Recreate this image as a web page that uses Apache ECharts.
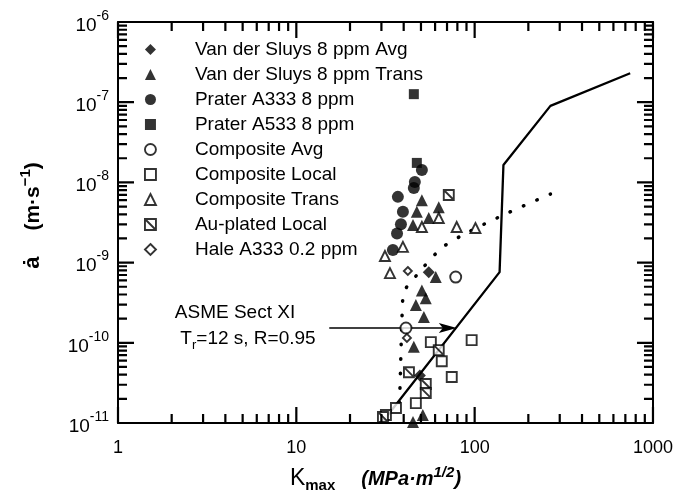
<!DOCTYPE html>
<html>
<head>
<meta charset="utf-8">
<script src="https://cdn.jsdelivr.net/npm/echarts@6/dist/echarts.min.js"></script>
<style>
  html, body { margin: 0; padding: 0; background: #fff; overflow: hidden; }
  #chart { width: 676px; height: 498px; }
</style>
</head>
<body>
<div id="chart"></div>
<script>
// Crack growth rate (m/s) versus maximum stress intensity K_max (MPa·m^1/2)

const xRange = [1, 1000];
const yRange = [1e-11, 1e-6];
const xTickLabels = ['1', '10', '100', '1000'];
const yTickExponents = [-11, -10, -9, -8, -7, -6];

// [K_max, da/dt]
const vanDerSluysAvg = [[55.3, 7.6e-10], [49.3, 3.9e-11]];
const vanDerSluysTrans = [
  [50.6, 6.0e-9], [47.4, 4.3e-9], [45.1, 2.94e-9], [55.3, 3.6e-9], [62.9, 4.9e-9],
  [60.5, 6.6e-10], [50.6, 4.5e-10], [53.2, 3.6e-10], [46.8, 2.96e-10], [51.9, 2.1e-10],
  [45.6, 8.9e-11], [51.2, 1.26e-11], [45.1, 1.03e-11]
];
const praterA333 = [
  [50.6, 1.43e-8], [46.2, 1.01e-8], [45.6, 8.5e-9], [37.1, 6.6e-9], [39.6, 4.3e-9],
  [38.6, 3.0e-9], [36.7, 2.3e-9], [34.8, 1.44e-9]
];
const praterA533 = [[45.6, 1.26e-7], [47.4, 1.75e-8]];
const compositeAvg = [[78.3, 6.6e-10], [41.2, 1.53e-10]];
const compositeLocal = [
  [96.2, 1.08e-10], [56.8, 1.02e-10], [65.4, 5.9e-11], [74.4, 3.75e-11],
  [46.8, 1.77e-11], [36.2, 1.54e-11], [31.8, 1.26e-11]
];
const compositeTrans = [
  [50.6, 2.78e-9], [62.9, 3.6e-9], [79.3, 2.78e-9], [101, 2.7e-9],
  [31.4, 1.21e-9], [39.6, 1.57e-9], [33.5, 7.4e-10]
];
const auPlatedLocal = [
  [71.6, 6.97e-9], [62.9, 8.1e-11], [42.8, 4.3e-11], [53.2, 3.06e-11], [53.2, 2.37e-11], [30.6, 1.19e-11]
];
const haleA333 = [[42.2, 7.85e-10], [41.7, 1.15e-10]];

// ASME Section XI reference curve and the dotted trend curve
const asmeCurve = [[31.0, 1.09e-11], [138, 7.6e-10], [145, 1.65e-8], [266, 9.0e-8], [745, 2.3e-7]];
const trendCurve = [
  [266, 7.16e-9], [153, 4.15e-9], [90.2, 2.34e-9], [65.4, 1.52e-9], [47.4, 7.0e-10],
  [40.1, 4.2e-10], [39.1, 1.9e-10], [38.1, 2.6e-11], [37.6, 1.45e-11]
];
// pointer from the ASME caption to the curve
const asmePointer = [[15.3, 1.53e-10], [70.7, 1.53e-10]];

// tick positions: decades (long) and 2..9 in every decade (short)
const xMajorTicks = [1, 10, 100, 1000];
const yMajorTicks = [1e-11, 1e-10, 1e-9, 1e-8, 1e-7, 1e-6];
const xMinorTicks = [];
for (let d = 1; d < 1000; d *= 10) for (let m = 2; m <= 9; m++) xMinorTicks.push(m * d);
const yMinorTicks = [];
for (let e = -11; e < -6; e++) for (let m = 2; m <= 9; m++) yMinorTicks.push(m * Math.pow(10, e));
const MAJOR_LEN = 16, MINOR_LEN = 9, TICK_W = 2.2;

const FONT = '"Liberation Sans", Arial, "DejaVu Sans", sans-serif';
const BLACK = '#000';
const slashedSquare = 'path://M0,0L10,0L10,10L0,10Z M0,0L10,10';

const legendNames = [
  'Van der Sluys 8 ppm Avg', 'Van der Sluys 8 ppm Trans', 'Prater A333 8 ppm', 'Prater A533 8 ppm',
  'Composite Avg', 'Composite Local', 'Composite Trans', 'Au-plated Local', 'Hale A333 0.2 ppm'
];
const seriesData = [vanDerSluysAvg, vanDerSluysTrans, praterA333, praterA533,
  compositeAvg, compositeLocal, compositeTrans, auPlatedLocal, haleA333];
const symbols = ['diamond', 'triangle', 'circle', 'rect', 'circle', 'rect', 'triangle', slashedSquare, 'diamond'];
const filled = [true, true, true, true, false, false, false, false, false];
const sizes = [12, 12, 12, 10, 11, 10, 10, 10, 8];

function markerStyle(i) {
  return filled[i]
    ? { color: BLACK, borderWidth: 0 }
    : { color: '#fff', borderColor: BLACK, borderWidth: 1.9 };
}

const scatterSeries = legendNames.map((name, i) => ({
  name, type: 'scatter', xAxisIndex: 0, yAxisIndex: 0,
  symbol: symbols[i], symbolSize: sizes[i],
  itemStyle: markerStyle(i), data: seriesData[i], z: 5, silent: true
}));

function axisCommon(pos) {
  return {
    type: 'log', logBase: 10, position: pos,
    axisLine: { show: true, onZero: false, lineStyle: { color: BLACK, width: 2 } },
    axisTick: { show: false },
    splitLine: { show: false }
  };
}

const chart = echarts.init(document.getElementById('chart'), null, { renderer: 'canvas' });

chart.setOption({
  backgroundColor: '#fff',
  animation: false,
  textStyle: { fontFamily: FONT, color: BLACK },
  grid: { left: 118, right: 19, top: 22, bottom: 75, containLabel: false },
  xAxis: [
    Object.assign(axisCommon('bottom'), {
      min: xRange[0], max: xRange[1],
      axisLabel: {
        margin: 16, fontSize: 18, color: BLACK, fontFamily: FONT,
        formatter: v => xTickLabels[Math.round(Math.log10(v))]
      },
      name: '{k|K}{sub|max}{gap|}{u|(MPa·m}{sup|1/2}{u|)}',
      nameLocation: 'middle', nameGap: 42,
      nameTextStyle: {
        padding: [0, 20, 0, 0],
        rich: {
          k: { fontSize: 23, fontFamily: FONT, color: BLACK, lineHeight: 28, verticalAlign: 'middle' },
          sub: { fontSize: 15, fontFamily: FONT, color: BLACK, fontWeight: 'bold', lineHeight: 28, verticalAlign: 'bottom' },
          gap: { width: 26 },
          u: { fontSize: 20, fontFamily: FONT, color: BLACK, fontStyle: 'italic', fontWeight: 'bold', lineHeight: 28, verticalAlign: 'middle' },
          sup: { fontSize: 15, fontFamily: FONT, color: BLACK, fontStyle: 'italic', fontWeight: 'bold', lineHeight: 28, verticalAlign: 'top' }
        }
      }
    }),
    Object.assign(axisCommon('top'), {
      min: xRange[0], max: xRange[1], axisLabel: { show: false }
    })
  ],
  yAxis: [
    Object.assign(axisCommon('left'), {
      min: yRange[0], max: yRange[1],
      axisLabel: {
        margin: 9, color: BLACK,
        formatter: v => {
          const e = Math.round(Math.log10(v));
          return yTickExponents.indexOf(e) >= 0 ? '{b|10}{s|' + e + '}' : '';
        },
        rich: {
          b: { fontSize: 19, fontFamily: FONT, color: BLACK, lineHeight: 26, verticalAlign: 'bottom' },
          s: { fontSize: 14, fontFamily: FONT, color: BLACK, lineHeight: 26, verticalAlign: 'top' }
        }
      },
      name: '{a|ȧ}{gap|}{u|(m·s}{sup|−1}{u|)}',
      nameLocation: 'middle', nameGap: 70, nameRotate: 90,
      nameTextStyle: {
        padding: [0, 0, 0, 14],
        rich: {
          a: { fontSize: 22, fontFamily: FONT, color: BLACK, fontWeight: 'bold', lineHeight: 30, verticalAlign: 'middle' },
          gap: { width: 26 },
          u: { fontSize: 21, fontFamily: FONT, color: BLACK, fontWeight: 'bold', lineHeight: 30, verticalAlign: 'middle' },
          sup: { fontSize: 15, fontFamily: FONT, color: BLACK, fontWeight: 'bold', lineHeight: 30, verticalAlign: 'top' }
        }
      }
    }),
    Object.assign(axisCommon('right'), {
      min: yRange[0], max: yRange[1], axisLabel: { show: false }
    })
  ],
  legend: {
    orient: 'vertical', left: 139, top: 35,
    itemWidth: 11, itemHeight: 11, itemGap: 6,
    selectedMode: false,
    data: legendNames.map((name, i) => ({
      name, icon: symbols[i], itemStyle: markerStyle(i)
    })),
    formatter: '{sp|}{t|{name}}',
    textStyle: {
      rich: {
        sp: { width: 34 },
        t: { fontSize: 19, fontFamily: FONT, color: BLACK, lineHeight: 18 }
      }
    }
  },
  graphic: [
    {
      type: 'text', x: 235, y: 313, silent: true, z: 10,
      style: { text: 'ASME Sect XI', fontSize: 19, fontFamily: FONT, fill: BLACK, align: 'center', verticalAlign: 'middle' }
    },
    {
      type: 'text', x: 248, y: 339, silent: true, z: 10,
      style: {
        text: '{b|T}{s|r}{b|=12 s, R=0.95}', align: 'center', verticalAlign: 'middle',
        rich: {
          b: { fontSize: 19, fontFamily: FONT, fill: BLACK, lineHeight: 26, verticalAlign: 'middle' },
          s: { fontSize: 13, fontFamily: FONT, fill: BLACK, lineHeight: 26, verticalAlign: 'bottom' }
        }
      }
    }
  ],
  series: [
    ...scatterSeries,
    {
      name: 'ASME Sect XI', type: 'line', xAxisIndex: 0, yAxisIndex: 0,
      data: asmeCurve, showSymbol: false, symbol: 'none', silent: true, z: 4,
      lineStyle: { color: BLACK, width: 2.3 }
    },
    {
      name: 'trend', type: 'line', xAxisIndex: 0, yAxisIndex: 0,
      data: trendCurve, showSymbol: false, symbol: 'none', silent: true, z: 4, smooth: 0.3,
      lineStyle: { color: BLACK, width: 3.5, type: [0.5, 14], cap: 'round' }
    },
    {
      name: 'pointer', type: 'line', xAxisIndex: 0, yAxisIndex: 0, silent: true, z: 4,
      data: [
        { value: asmePointer[0], symbol: 'none' },
        { value: asmePointer[1], symbol: 'path://M5,0L10,18L5,14L0,18Z', symbolSize: [10, 18], symbolRotate: -90 }
      ],
      showSymbol: true,
      itemStyle: { color: BLACK },
      lineStyle: { color: BLACK, width: 1.7 }
    }
  ]
});

// Inward tick marks drawn as broken line series on the log axes:
// the pixel length of each tick is turned into a data offset through the axis scale.
const toPx = v => chart.convertToPixel({ seriesIndex: 0 }, v);
const pxPerDecadeX = toPx([10, yRange[0]])[0] - toPx([1, yRange[0]])[0];
const pxPerDecadeY = toPx([1, 1e-11])[1] - toPx([1, 1e-10])[1];
const xAlong = (v, px) => v * Math.pow(10, px / pxPerDecadeX);
const yAlong = (v, px) => v * Math.pow(10, px / pxPerDecadeY);

const tickPaths = { bottom: [], top: [], left: [], right: [] };
function addX(v, len) {
  tickPaths.bottom.push([v, yRange[0]], [v, yAlong(yRange[0], len)], ['-', '-']);
  tickPaths.top.push([v, yRange[1]], [v, yAlong(yRange[1], -len)], ['-', '-']);
}
function addY(v, len) {
  tickPaths.left.push([xRange[0], v], [xAlong(xRange[0], len), v], ['-', '-']);
  tickPaths.right.push([xRange[1], v], [xAlong(xRange[1], -len), v], ['-', '-']);
}
xMajorTicks.forEach(v => addX(v, MAJOR_LEN));
xMinorTicks.forEach(v => addX(v, MINOR_LEN));
yMajorTicks.forEach(v => addY(v, MAJOR_LEN));
yMinorTicks.forEach(v => addY(v, MINOR_LEN));

const tickLineSeries = Object.keys(tickPaths).map(side => ({
  id: 'tick-' + side, name: 'tick-' + side, type: 'line', xAxisIndex: 0, yAxisIndex: 0,
  data: tickPaths[side], connectNulls: false, showSymbol: false, symbol: 'none',
  silent: true, clip: false, z: 6,
  lineStyle: { color: BLACK, width: TICK_W, cap: 'butt' }
}));

chart.setOption({ series: tickLineSeries });
</script>
</body>
</html>
